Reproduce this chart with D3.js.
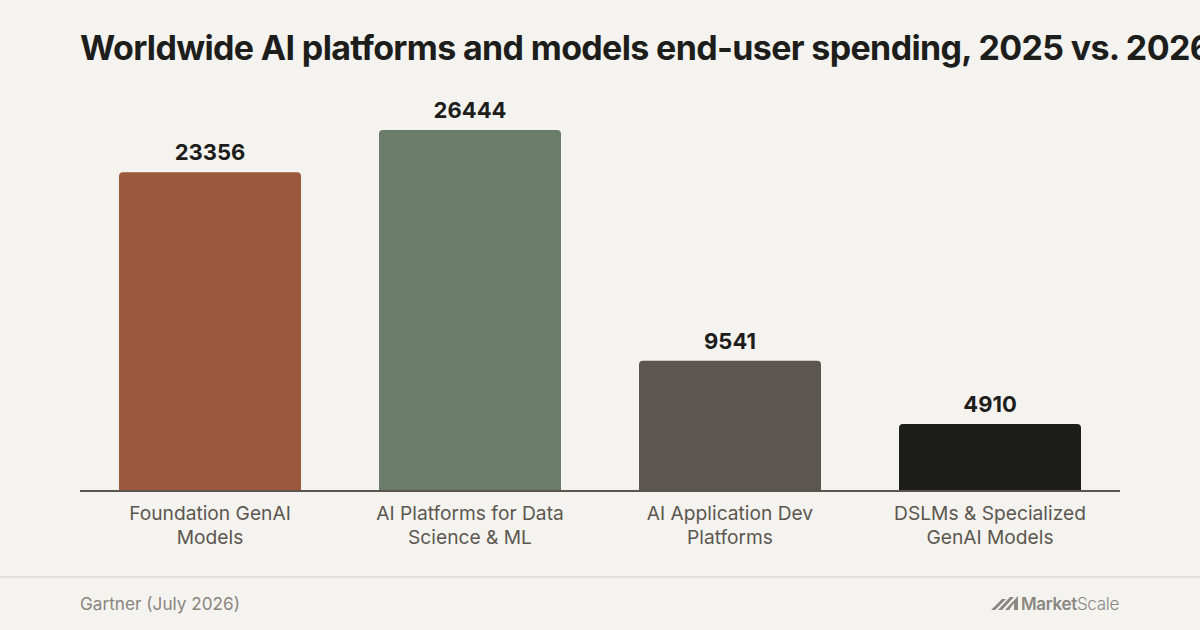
<!DOCTYPE html>
<html>
<head>
<meta charset="utf-8">
<script src="https://cdn.jsdelivr.net/npm/d3@7"></script>
<style>
  html, body { margin: 0; padding: 0; background: #f4f3ef; }
  svg { display: block; font-family: Inter, "Noto Sans", sans-serif; }
</style>
</head>
<body>
<div id="chart"></div>
<script>
const categories = [
  ["Foundation GenAI", "Models"],
  ["AI Platforms for Data", "Science & ML"],
  ["AI Application Dev", "Platforms"],
  ["DSLMs & Specialized", "GenAI Models"]
]
const values = [23356, 26444, 9541, 4910]
const colors = ["#9b583c", "#6b7c6a", "#5c5650", "#1d1d1b"]

const width = 1200
const height = 630
const baseline = 491

const svg = d3.select("#chart")
  .append("svg")
  .attr("width", width)
  .attr("height", height)
  .attr("viewBox", `0 0 ${width} ${height}`)

svg.append("rect")
  .attr("width", width).attr("height", height)
  .attr("fill", "#f4f3ef")

// Title (runs off the right edge like the original)
svg.append("text")
  .attr("x", 80)
  .attr("y", 60)
  .attr("font-size", "34px")
  .attr("font-weight", "700")
  .attr("letter-spacing", "-0.65px")
  .attr("fill", "#1d1d1b")
  .text("Worldwide AI platforms and models end-user spending, 2025 vs. 2026")

const idx = d3.range(values.length)

const x = d3.scaleBand()
  .domain(idx)
  .range([80, 1120])
  .paddingInner(0.3)
  .paddingOuter(0.15)

const y = d3.scaleLinear()
  .domain([0, d3.max(values) * 1.1])
  .range([baseline, 94])

// Bars
svg.append("g")
  .selectAll("rect")
  .data(idx)
  .join("rect")
  .attr("x", i => x(i))
  .attr("y", i => y(values[i]))
  .attr("width", x.bandwidth())
  .attr("height", i => y(0) - y(values[i]) + 4)
  .attr("rx", 4)
  .attr("fill", i => colors[i])

// cover the rounded bottom corners below the axis
svg.append("rect")
  .attr("x", 0).attr("y", baseline)
  .attr("width", width).attr("height", 8)
  .attr("fill", "#f4f3ef")

// Axis line
svg.append("line")
  .attr("x1", 80).attr("x2", 1120)
  .attr("y1", baseline).attr("y2", baseline)
  .attr("stroke", "#5a554e")
  .attr("stroke-width", 2)

// Value labels
svg.append("g")
  .selectAll("text")
  .data(idx)
  .join("text")
  .attr("x", i => x(i) + x.bandwidth() / 2)
  .attr("y", i => y(values[i]) - 12)
  .attr("text-anchor", "middle")
  .attr("font-size", "22px")
  .attr("font-weight", "700")
  .attr("fill", "#1d1d1b")
  .text(i => values[i])

// Category labels
const cat = svg.append("g")
  .selectAll("text")
  .data(idx)
  .join("text")
  .attr("x", i => x(i) + x.bandwidth() / 2)
  .attr("y", 520)
  .attr("text-anchor", "middle")
  .attr("font-size", "19.2px")
  .attr("fill", "#5c5750")

cat.selectAll("tspan")
  .data(i => categories[i])
  .join("tspan")
  .attr("x", function () { return d3.select(this.parentNode).attr("x") })
  .attr("dy", (d, j) => j === 0 ? 0 : 24)
  .text(d => d)

// Footer
svg.append("line")
  .attr("x1", 0).attr("x2", width)
  .attr("y1", 577).attr("y2", 577)
  .attr("stroke", "#e4e1dc")
  .attr("stroke-width", 2)

svg.append("text")
  .attr("x", 80)
  .attr("y", 610)
  .attr("font-size", "17.2px")
  .attr("fill", "#8a857e")
  .text("Gartner (July 2026)")

// MarketScale logo
const logo = svg.append("g").attr("fill", "#8a8782")
logo.append("path")
  .attr("d", "M991,610 L1002,599 L1006,599 L995,610 Z M998,610 L1010,597 L1014,597 L1002,610 Z M1005,610 L1018,596 L1018,610 L1014,610 L1014,603 L1009,610 Z")

const brand = logo.append("text")
  .attr("x", 1119)
  .attr("y", 610)
  .attr("text-anchor", "end")
  .attr("font-size", "17px")
  .attr("letter-spacing", "-0.3px")
brand.append("tspan").attr("font-weight", "600").text("Market")
brand.append("tspan").attr("font-weight", "300").text("Scale")
</script>
</body>
</html>
